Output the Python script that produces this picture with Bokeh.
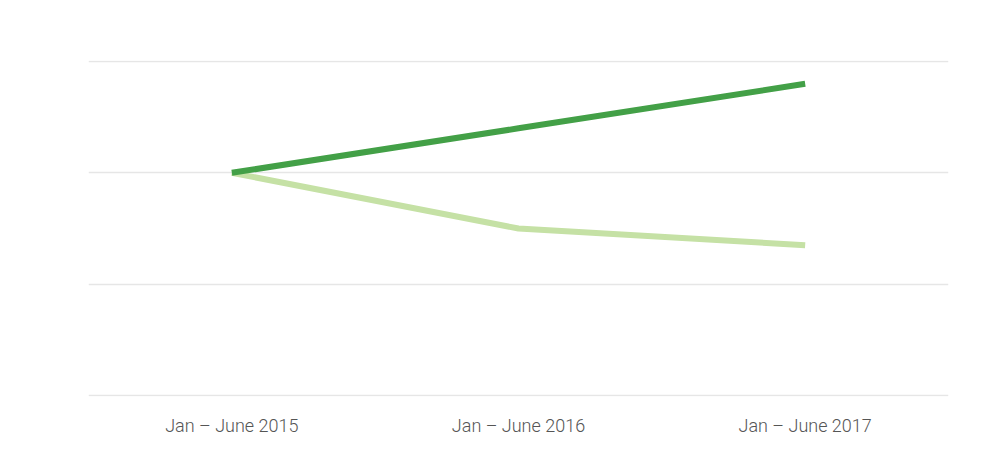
from bokeh.plotting import figure
from bokeh.models import FactorRange, Range1d, FixedTicker
from bokeh.embed import file_html
from bokeh.resources import INLINE

periods = ["Jan – June 2015", "Jan – June 2016", "Jan – June 2017"]
series_dark = [100, 120, 140]
series_light = [100, 75, 67.5]
grid_values = [0, 50, 100, 150]

p = figure(frame_width=860, frame_height=336, output_backend="svg", toolbar_location=None,
           x_range=FactorRange(factors=periods, range_padding=0),
           y_range=Range1d(-0.45, 150.45),
           min_border_left=88, min_border_right=36, min_border_top=60, min_border_bottom=58)
p.outline_line_color = None
p.background_fill_color = "white"
p.border_fill_color = "white"

p.line(periods, series_light, line_color="#c5e1a5", line_width=6)
p.line(periods, series_dark, line_color="#43a047", line_width=6)

p.yaxis.visible = False
p.ygrid.ticker = FixedTicker(ticks=grid_values)
p.ygrid.grid_line_color = "#e6e6e6"
p.ygrid.grid_line_width = 1.5
p.xgrid.visible = False

ax = p.xaxis[0]
ax.axis_line_color = None
ax.major_tick_line_color = None
ax.minor_tick_line_color = None
ax.major_label_text_font = "Roboto Light"
ax.major_label_text_font_size = "18px"
ax.major_label_text_color = "#555555"
ax.major_label_standoff = 12

open("out.html", "w").write(file_html(p, INLINE))
